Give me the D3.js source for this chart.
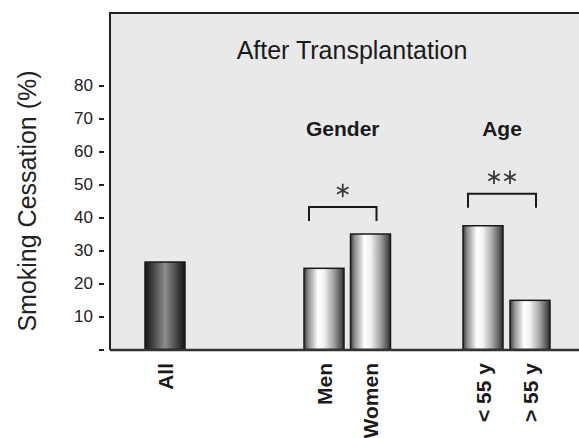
<!DOCTYPE html>
<html>

<head>
    <style>
        body {
            margin: 0;
            background-color: #ffffff;
            font-family: 'Liberation Sans', Arial, sans-serif;
        }

    </style>
    <script src="https://d3js.org/d3.v7.min.js"></script>
    <title>Smoking Cessation</title>
</head>

<body>
    <svg id="chart" width="579" height="438"></svg>

    <script>
        // values
        var categories = ["All", "Men", "Women", "< 55 y", "> 55 y"];
        var cessation = [26.5, 24.6, 35.0, 37.5, 14.9];
        var barStyle = ["dark", "light", "light", "light", "light"];
        var yTicks = [0, 10, 20, 30, 40, 50, 60, 70, 80];
        var yTickLabels = ["", "10", "20", "30", "40", "50", "60", "70", "80"];
        var groupLabels = ["Gender", "Age"];
        var groupPairs = [["Men", "Women"], ["< 55 y", "> 55 y"]];
        var groupStars = [1, 2];
        var title = "After Transplantation";
        var yLabel = "Smoking Cessation (%)";

        var canvas = d3.select("#chart");
        var panel = { left: 110, top: 13, right: 579, bottom: 350 };
        var barWidth = 40;
        var bracketGap = [27, 32];

        var yScale = d3.scaleLinear()
            .domain([0, 80])
            .range([349.5, 85.5]);

        var xScale = d3.scaleOrdinal()
            .domain(categories)
            .range([165, 324, 370.5, 483, 530]);

        // gradients for the cylinder look
        var defs = canvas.append("defs");
        var gradDark = defs.append("linearGradient").attr("id", "dark");
        [[0, "#141414"], [0.2, "#444"], [0.5, "#8e8e8e"], [0.8, "#444"], [1, "#141414"]].forEach(function (s) {
            gradDark.append("stop").attr("offset", s[0]).attr("stop-color", s[1]);
        });
        var gradLight = defs.append("linearGradient").attr("id", "light");
        [[0, "#3a3a3a"], [0.1, "#8a8a8a"], [0.35, "#ffffff"], [0.5, "#f2f2f2"], [0.75, "#a0a0a0"], [0.92, "#555"], [1, "#2a2a2a"]].forEach(function (s) {
            gradLight.append("stop").attr("offset", s[0]).attr("stop-color", s[1]);
        });

        // grey panel
        canvas.append("rect")
            .attr("x", panel.left)
            .attr("y", panel.top)
            .attr("width", panel.right - panel.left)
            .attr("height", panel.bottom - panel.top)
            .style("fill", "#e9e9e9");

        canvas.append("path")
            .attr("d", "M" + panel.left + "," + panel.bottom + "V" + panel.top + "H" + panel.right)
            .style("fill", "none")
            .style("stroke", "#222")
            .style("stroke-width", "2px");

        // y axis: ticks sit a little left of the panel border
        var yAxis = d3.axisLeft(yScale)
            .tickValues(yTicks)
            .tickSize(5)
            .tickPadding(6)
            .tickFormat(function (d, i) {
                return yTickLabels[i];
            });

        var yAxisG = canvas.append("g")
            .attr("transform", "translate(" + 104 + ",0)")
            .call(yAxis);
        yAxisG.select(".domain").remove();
        yAxisG.selectAll("line")
            .style("stroke", "#222")
            .style("stroke-width", "2px");
        yAxisG.selectAll("text")
            .style("font-family", "'Liberation Sans', Arial, sans-serif")
            .style("font-size", "17px")
            .style("fill", "#222");

        canvas.append("text")
            .attr("transform", "translate(27," + 201 + ") rotate(-90)")
            .attr("text-anchor", "middle")
            .attr("dy", "0.35em")
            .style("font-size", "25px")
            .style("fill", "#222")
            .text(yLabel);

        canvas.append("text")
            .attr("x", 352)
            .attr("y", 59)
            .attr("text-anchor", "middle")
            .style("font-size", "25px")
            .style("fill", "#1a1a1a")
            .text(title);

        // bars
        canvas.selectAll("rect.bar")
            .data(cessation)
            .enter()
            .append("rect")
            .attr("class", "bar")
            .attr("x", function (d, i) {
                return xScale(categories[i]) - barWidth / 2;
            })
            .attr("y", function (d) {
                return yScale(d);
            })
            .attr("width", barWidth)
            .attr("height", function (d) {
                return yScale(0) - yScale(d);
            })
            .style("fill", function (d, i) {
                return "url(#" + barStyle[i] + ")";
            })
            .style("stroke", "#1a1a1a")
            .style("stroke-width", "1.5px");

        // bottom axis line over the bars
        canvas.append("line")
            .attr("x1", panel.left)
            .attr("x2", panel.right)
            .attr("y1", panel.bottom)
            .attr("y2", panel.bottom)
            .style("stroke", "#333")
            .style("stroke-width", "2.5px");

        // category labels
        canvas.selectAll("text.cat")
            .data(categories)
            .enter()
            .append("text")
            .attr("class", "cat")
            .attr("transform", function (d) {
                return "translate(" + xScale(d) + ",363) rotate(-90)";
            })
            .attr("text-anchor", "end")
            .attr("dy", "0.36em")
            .style("font-size", "21px")
            .style("font-weight", "bold")
            .style("fill", "#1a1a1a")
            .text(function (d) {
                return d;
            });

        // group headers, brackets and stars
        groupPairs.forEach(function (pair, i) {
            var x1 = xScale(pair[0]) - 15;
            var x2 = xScale(pair[1]) + 6;
            var mid = (x1 + x2) / 2;
            var top = Math.min(yScale(cessation[categories.indexOf(pair[0])]),
                yScale(cessation[categories.indexOf(pair[1])])) - bracketGap[i];

            canvas.append("text")
                .attr("x", mid)
                .attr("y", 136)
                .attr("text-anchor", "middle")
                .style("font-size", "21px")
                .style("font-weight", "bold")
                .style("fill", "#1a1a1a")
                .text(groupLabels[i]);

            canvas.append("path")
                .attr("d", "M" + x1 + "," + (top + 14) + "V" + top + "H" + x2 + "V" + (top + 14))
                .style("fill", "none")
                .style("stroke", "#1a1a1a")
                .style("stroke-width", "2px");

            var n = groupStars[i];
            for (var k = 0; k < n; k++) {
                var sx = mid + (k - (n - 1) / 2) * 16;
                canvas.append("path")
                    .attr("transform", "translate(" + sx + "," + (top - 16.5) + ")")
                    .attr("d", d3.symbol(d3.symbolAsterisk || d3.symbolCross, 125)())
                    .style("fill", "none")
                    .style("stroke", "#3a3a3a")
                    .style("stroke-width", "1.8px");
            }
        });
    </script>
</body>

</html>
